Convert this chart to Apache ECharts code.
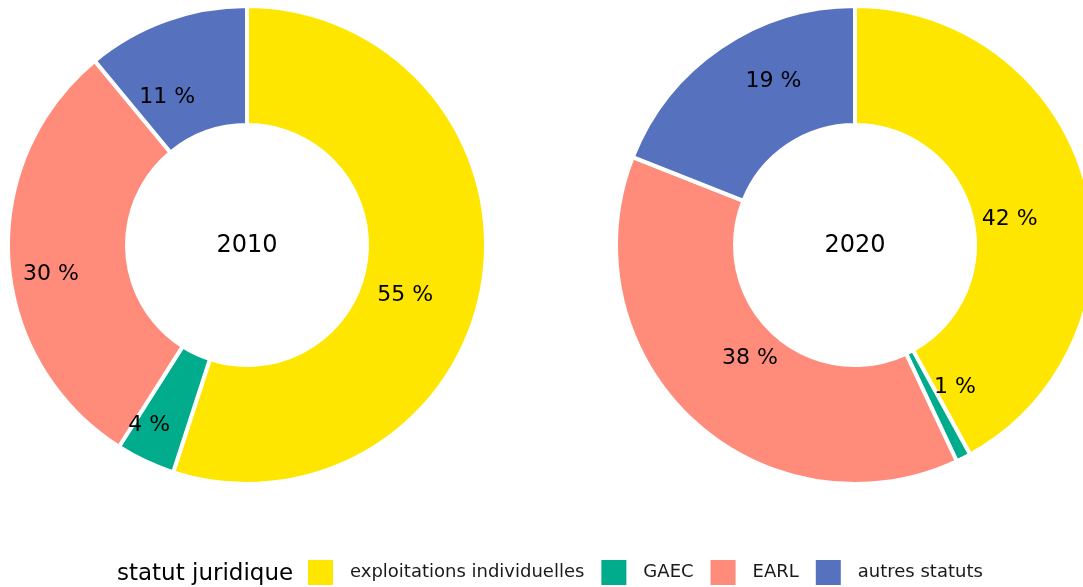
<!DOCTYPE html>
<html>
<head>
<meta charset="utf-8">
<script src="https://cdn.jsdelivr.net/npm/echarts@6/dist/echarts.min.js"></script>
<style>html,body{margin:0;padding:0;background:#fff}#c{width:1083px;height:587px}</style>
</head>
<body>
<div id="c"></div>
<script>
const categories = ['exploitations individuelles', 'GAEC', 'EARL', 'autres statuts'];
const years = ['2010', '2020'];
const values2010 = [55, 4, 30, 11];
const values2020 = [42, 1, 38, 19];
const colors = ['#FEE600', '#00AC8C', '#FF8B7B', '#5672BF'];
const legendTitle = 'statut juridique';

// label nudges (pixels) relative to the slice's mid-ring position, as in the reference
const labelNudge2010 = [[-22, 22], [-20, 15], [-14, 18], [-18, 24]];
const labelNudge2020 = [[-22, 20], [17, -20], [20, -20], [21, -13]];

const FONT = 'DejaVu Sans';
const chart = echarts.init(document.getElementById('c'), null, {renderer: 'canvas'});
const centers = [[247, 245], [855, 245]];
const allValues = [values2010, values2020];
const allNudges = [labelNudge2010, labelNudge2020];

const series = allValues.map((vals, i) => ({
  type: 'pie',
  center: centers[i],
  radius: [120, 239],
  startAngle: 90,
  clockwise: true,
  animation: false,
  avoidLabelOverlap: false,
  itemStyle: {borderColor: '#fff', borderWidth: 4},
  label: {
    show: true, position: 'inside', formatter: '{c} %',
    color: '#000', fontSize: 22, fontFamily: FONT
  },
  labelLine: {show: false},
  emphasis: {disabled: true},
  data: categories.map((c, j) => ({
    name: c, value: vals[j],
    label: {offset: allNudges[i][j]}
  }))
}));

const graphics = years.map((y, i) => ({
  type: 'text', x: centers[i][0], y: centers[i][1] + 1,
  style: {text: y, fontFamily: FONT, fontSize: 24, fill: '#000',
          textAlign: 'center', textVerticalAlign: 'middle'}
}));
graphics.push({
  type: 'text', x: 117, y: 574,
  style: {text: legendTitle, fontFamily: FONT, fontSize: 23, fill: '#000',
          textAlign: 'left', textVerticalAlign: 'middle'}
});

chart.setOption({
  backgroundColor: '#fff',
  color: colors,
  graphic: graphics,
  legend: {
    data: categories,
    left: 308, top: 560, padding: 0,
    itemWidth: 25, itemHeight: 25, itemGap: 17,
    icon: 'rect',
    itemStyle: {borderWidth: 0},
    textStyle: {fontFamily: FONT, fontSize: 18, color: '#1a1a1a', padding: [2, 0, 0, 12]}
  },
  series: series
});
</script>
</body>
</html>
